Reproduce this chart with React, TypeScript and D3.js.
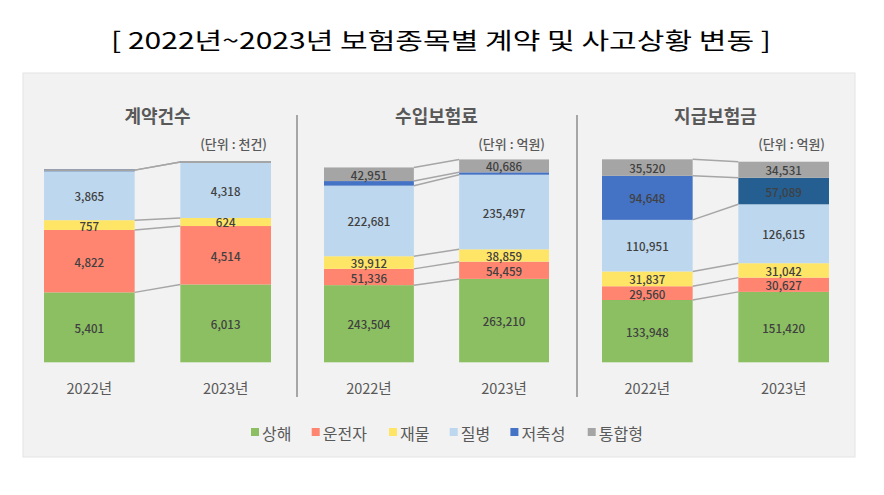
import React from 'react';
import * as d3 from 'd3';

const years = ['2022년', '2023년'];
const seriesNames = ['상해', '운전자', '재물', '질병', '저축성', '통합형'];
const seriesColors = ['#8bbf61', '#ff8571', '#ffe566', '#bdd7ee', '#4472c4', '#a5a5a5'];
const panelTitles = ['계약건수', '수입보험료', '지급보험금'];
const panelUnits = ['(단위 : 천건)', '(단위 : 억원)', '(단위 : 억원)'];

const contracts2022 = [5401, 4822, 757, 3865, 0, 0];
const contracts2023 = [6013, 4514, 624, 4318, 0, 0];
const premium2022 = [243504, 51336, 39912, 222681, 14500, 42951];
const premium2023 = [263210, 54459, 38859, 235497, 7500, 40686];
const claims2022 = [133948, 29560, 31837, 110951, 94648, 35520];
const claims2023 = [151420, 30627, 31042, 126615, 57089, 34531];
const axisMax = [16400, 670000, 456500];
// colour override: panel 3, 2023, 저축성
const claims2023SavingsColor = '#255e91';

const panelData = [
  [contracts2022, contracts2023],
  [premium2022, premium2023],
  [claims2022, claims2023],
];

const W = 884;
const H = 495;
const FONT = '"Noto Sans CJK KR", "Noto Sans", sans-serif';
const plotBottom = 362.3;
const plotTop = 150;
const panelRanges: [number, number][] = [
  [44, 271],
  [324, 549],
  [602, 829],
];
const fmt = d3.format(',');

function Panel({ idx }: { idx: number }) {
  const data = panelData[idx];
  const x = d3
    .scaleBand<string>()
    .domain(years)
    .range(panelRanges[idx])
    .paddingInner(0.335)
    .paddingOuter(0);
  const y = d3.scaleLinear().domain([0, axisMax[idx]]).range([plotBottom, plotTop]);
  const stackRows = years.map((yr, i) => {
    const row: any = { year: yr };
    seriesNames.forEach((s, j) => (row[s] = data[i][j]));
    return row;
  });
  const stacked = d3.stack<any>().keys(seriesNames)(stackRows);
  const bw = x.bandwidth();
  const x0 = x(years[0])! + bw;
  const x1 = x(years[1])!;
  const center = (panelRanges[idx][0] + panelRanges[idx][1]) / 2;

  const colorFor = (si: number, yi: number) =>
    idx === 2 && yi === 1 && si === 4 ? claims2023SavingsColor : seriesColors[si];

  return (
    <g>
      <text
        x={center}
        y={115}
        textAnchor="middle"
        dominantBaseline="central"
        fontFamily={FONT}
        fontWeight={700}
        fontSize={18}
        fill="#595959"
      >
        {panelTitles[idx]}
      </text>
      <text
        x={panelRanges[idx][1] - 4}
        y={143}
        textAnchor="end"
        dominantBaseline="central"
        fontFamily={FONT}
        fontWeight={500}
        fontSize={13}
        fill="#595959"
      >
        {panelUnits[idx]}
      </text>
      {/* bars */}
      {stacked.map((layer, si) =>
        layer.map((d, yi) => {
          const yTop = y(d[1]);
          const yBot = y(d[0]);
          const h = yBot - yTop;
          if (h <= 0) return null;
          return (
            <rect
              key={`r${si}-${yi}`}
              x={x(years[yi])}
              y={yTop}
              width={bw}
              height={h}
              fill={colorFor(si, yi)}
            />
          );
        })
      )}
      {/* zero-height segments shown as edge lines */}
      {stacked.map((layer, si) =>
        layer.map((d, yi) =>
          d[1] - d[0] === 0 ? (
            <line
              key={`z${si}-${yi}`}
              x1={x(years[yi])}
              x2={x(years[yi])! + bw}
              y1={y(d[1])}
              y2={y(d[1])}
              stroke={seriesColors[si]}
              strokeWidth={2}
            />
          ) : null
        )
      )}
      {/* series lines */}
      {stacked.map((layer, si) => {
        const a = layer[0];
        const b = layer[1];
        if (a[1] - a[0] === 0 && b[1] - b[0] === 0 && si < seriesNames.length - 1) return null;
        return (
          <line
            key={`s${si}`}
            x1={x0}
            x2={x1}
            y1={y(a[1])}
            y2={y(b[1])}
            stroke="#a6a6a6"
            strokeWidth={1.5}
          />
        );
      })}
      {/* labels */}
      {stacked.map((layer, si) =>
        layer.map((d, yi) => {
          const h = y(d[0]) - y(d[1]);
          if (h < 7) return null;
          return (
            <text
              key={`t${si}-${yi}`}
              x={x(years[yi])! + bw / 2}
              y={(y(d[0]) + y(d[1])) / 2 + 0.5}
              textAnchor="middle"
              dominantBaseline="central"
              fontFamily={FONT}
              fontWeight={500}
              fontSize={11.5}
              fill="#404040"
            >
              {fmt(d[1] - d[0])}
            </text>
          );
        })
      )}
      {years.map((yr) => (
        <text
          key={yr}
          x={x(yr)! + bw / 2}
          y={387}
          textAnchor="middle"
          dominantBaseline="central"
          fontFamily={FONT}
          fontSize={14.5}
          fill="#595959"
        >
          {yr}
        </text>
      ))}
    </g>
  );
}

export default function App() {
  const legendX: number[] = [];
  let cx = 251;
  seriesNames.forEach((s) => {
    legendX.push(cx);
    cx += 11.5 + s.length * 16.6 + 16;
  });
  return (
    <svg
      width={W}
      height={H}
      style={{ position: 'absolute', left: 0, top: 0, background: '#ffffff' }}
    >
      <rect x={0} y={0} width={W} height={H} fill="#ffffff" />
      <text
        x={441}
        y={39}
        textAnchor="middle"
        dominantBaseline="central"
        fontFamily={FONT}
        fontSize={23}
        fill="#000000"
        textLength={660}
        lengthAdjust="spacingAndGlyphs"
      >
        [ 2022년~2023년 보험종목별 계약 및 사고상황 변동 ]
      </text>
      <rect x={23} y={73} width={832} height={384} fill="#f2f2f2" stroke="#e4e4e4" strokeWidth={1} />
      <line x1={297} x2={297} y1={115} y2={397} stroke="#a6a6a6" strokeWidth={2} />
      <line x1={577} x2={577} y1={115} y2={397} stroke="#a6a6a6" strokeWidth={2} />
      {panelTitles.map((_, i) => (
        <Panel key={i} idx={i} />
      ))}
      {seriesNames.map((s, i) => (
        <g key={s}>
          <rect x={legendX[i]} y={428} width={8} height={8} fill={seriesColors[i]} />
          <text
            x={legendX[i] + 11}
            y={432.5}
            dominantBaseline="central"
            fontFamily={FONT}
            fontSize={16}
            fill="#595959"
          >
            {s}
          </text>
        </g>
      ))}
    </svg>
  );
}
